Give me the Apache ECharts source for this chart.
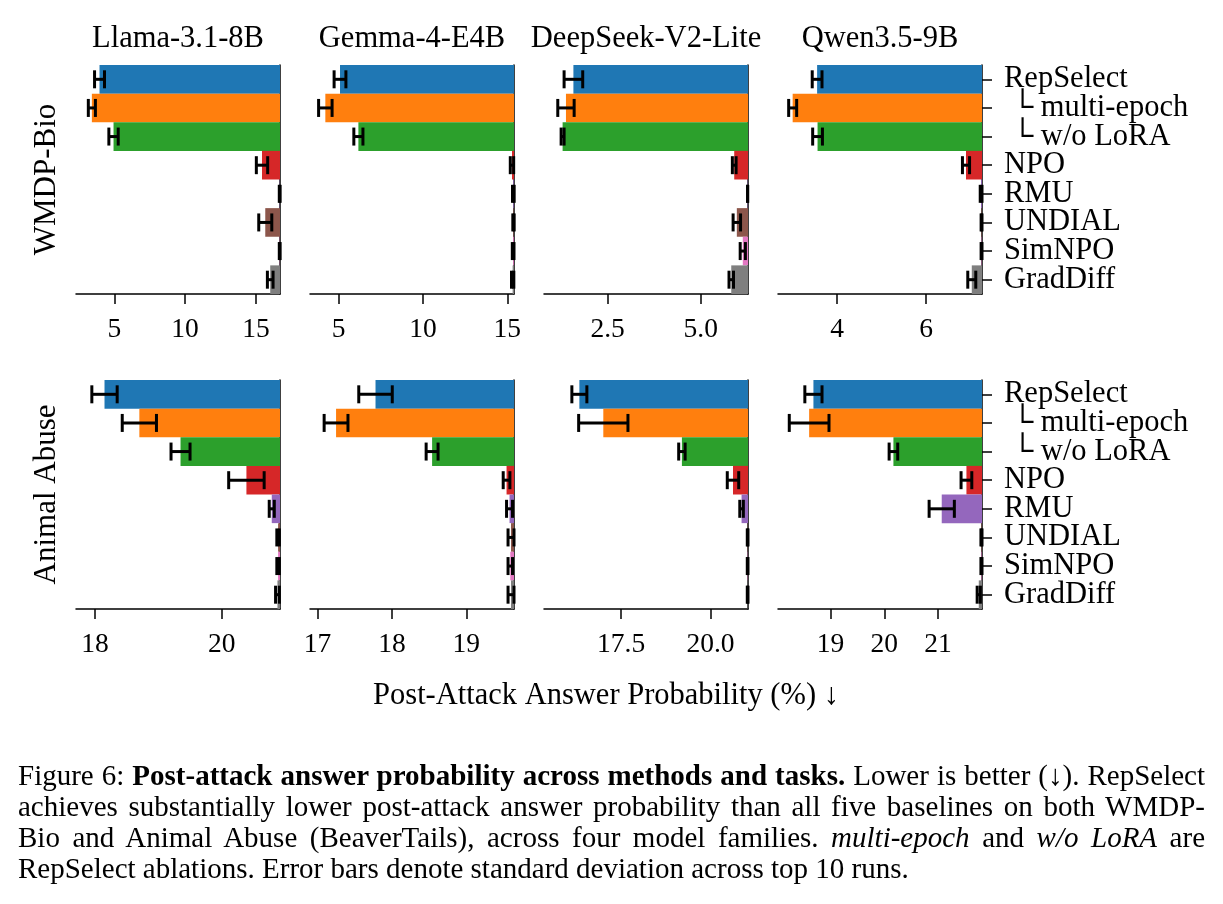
<!DOCTYPE html>
<html>
<head>
<meta charset="utf-8">
<script src="https://cdn.jsdelivr.net/npm/echarts@6/dist/echarts.min.js"></script>
<style>
  html, body { margin: 0; padding: 0; background: #fff; }
  #chart { position: absolute; left: 0; top: 0; width: 1223px; height: 904px; }
  #caption {
    position: absolute; left: 18px; top: 760px; width: 1187px;
    font-family: 'Liberation Serif', 'Times New Roman', serif;
    font-size: 29px; line-height: 31px; color: #000;
  }
  #caption div { text-align: justify; text-align-last: justify; }
  #caption div.last { text-align-last: left; }
</style>
</head>
<body>
<div id="chart"></div>
<div id="caption">
  <div>Figure 6: <b>Post-attack answer probability across methods and tasks.</b> Lower is better (↓). RepSelect</div>
  <div>achieves substantially lower post-attack answer probability than all five baselines on both WMDP-</div>
  <div>Bio and Animal Abuse (BeaverTails), across four model families. <i>multi-epoch</i> and <i>w/o LoRA</i> are</div>
  <div class="last">RepSelect ablations. Error bars denote standard deviation across top 10 runs.</div>
</div>
<script>
const methods = ['RepSelect', ' └ multi-epoch', ' └ w/o LoRA', 'NPO', 'RMU', 'UNDIAL', 'SimNPO', 'GradDiff'];
const models = ['Llama-3.1-8B', 'Gemma-4-E4B', 'DeepSeek-V2-Lite', 'Qwen3.5-9B'];
const tasks = ['WMDP-Bio', 'Animal Abuse'];
const colors = ['#1f77b4', '#ff7f0e', '#2ca02c', '#d62728', '#9467bd', '#8c564b', '#e377c2', '#7f7f7f'];

// WMDP-Bio: mean and std per model
const wmdpLlama = [3.96, 3.42, 4.95, 15.43, 16.68, 15.66, 16.68, 16.01];
const wmdpLlamaStd = [0.35, 0.25, 0.33, 0.40, 0.03, 0.46, 0.03, 0.20];
const wmdpGemma = [5.08, 4.21, 6.17, 15.28, 15.36, 15.37, 15.35, 15.32];
const wmdpGemmaStd = [0.35, 0.40, 0.27, 0.10, 0.05, 0.04, 0.05, 0.07];
const wmdpDeepseek = [1.58, 1.38, 1.29, 5.90, 6.26, 5.97, 6.13, 5.82];
const wmdpDeepseekStd = [0.25, 0.22, 0.04, 0.05, 0.00, 0.10, 0.07, 0.06];
const wmdpQwen = [3.55, 3.00, 3.56, 6.90, 7.24, 7.25, 7.25, 7.03];
const wmdpQwenStd = [0.11, 0.09, 0.11, 0.08, 0.02, 0.01, 0.01, 0.09];

// Animal Abuse: mean and std per model
const animalLlama = [18.15, 18.70, 19.35, 20.39, 20.79, 20.89, 20.89, 20.88];
const animalLlamaStd = [0.20, 0.27, 0.15, 0.28, 0.04, 0.02, 0.02, 0.03];
const animalGemma = [17.78, 17.25, 18.54, 19.54, 19.58, 19.60, 19.59, 19.60];
const animalGemmaStd = [0.225, 0.16, 0.08, 0.045, 0.04, 0.04, 0.03, 0.04];
const animalDeepseek = [16.33, 17.00, 19.20, 20.63, 20.87, 21.04, 21.04, 21.04];
const animalDeepseekStd = [0.21, 0.69, 0.09, 0.16, 0.05, 0.01, 0.01, 0.01];
const animalQwen = [18.68, 18.60, 20.17, 21.53, 21.07, 21.81, 21.81, 21.76];
const animalQwenStd = [0.16, 0.37, 0.08, 0.10, 0.235, 0.01, 0.01, 0.03];

// tick values and labels per panel (row-major)
const tickValues = [[5, 10, 15], [5, 10, 15], [2.5, 5.0], [4, 6], [18, 20], [17, 18, 19], [17.5, 20.0], [19, 20, 21]];
const tickLabels = [['5', '10', '15'], ['5', '10', '15'], ['2.5', '5.0'], ['4', '6'], ['18', '20'], ['17', '18', '19'], ['17.5', '20.0'], ['19', '20', '21']];

const panels = [
  { mean: wmdpLlama, std: wmdpLlamaStd, min: 2.3, max: 16.7 },
  { mean: wmdpGemma, std: wmdpGemmaStd, min: 3.3, max: 15.4 },
  { mean: wmdpDeepseek, std: wmdpDeepseekStd, min: 0.79, max: 6.27 },
  { mean: wmdpQwen, std: wmdpQwenStd, min: 2.67, max: 7.26 },
  { mean: animalLlama, std: animalLlamaStd, min: 17.7, max: 20.92 },
  { mean: animalGemma, std: animalGemmaStd, min: 16.9, max: 19.64 },
  { mean: animalDeepseek, std: animalDeepseekStd, min: 15.34, max: 21.05 },
  { mean: animalQwen, std: animalQwenStd, min: 18.02, max: 21.82 },
];

const serif = "'Liberation Serif', 'Times New Roman', serif";
const colLeft = [76, 310, 544, 778];
const rowTop = [65, 380];
const plotW = 204, plotH = 229;
const axisStyle = { color: '#000', width: 1.5 };

const grid = [], xAxis = [], yAxis = [], series = [];

panels.forEach((p, k) => {
  const r = Math.floor(k / 4), c = k % 4;
  grid.push({ left: colLeft[c], top: rowTop[r], width: plotW, height: plotH });
  xAxis.push({
    gridIndex: k, type: 'value', min: p.min, max: p.max,
    axisLine: { show: true, onZero: false, lineStyle: axisStyle },
    axisTick: { show: true, length: 10, customValues: tickValues[k], lineStyle: axisStyle },
    axisLabel: {
      customValues: tickValues[k], margin: 22, color: '#000', fontSize: 27.5, fontFamily: serif,
      formatter: v => {
        const i = tickValues[k].findIndex(t => Math.abs(t - v) < 1e-6);
        return i >= 0 ? tickLabels[k][i] : '';
      }
    },
    splitLine: { show: false }
  });
  yAxis.push({
    gridIndex: k, type: 'category', data: methods, inverse: true, position: 'right',
    axisLine: { show: true, onZero: false, lineStyle: axisStyle },
    axisTick: { show: c === 3, interval: 0, length: 10, alignWithLabel: true, lineStyle: axisStyle },
    axisLabel: { show: c === 3, interval: 0, margin: 22, color: '#000', fontSize: 30.5, fontFamily: serif },
    splitLine: { show: false }
  });
  const rows = p.mean.map((v, i) => [v, i, p.std[i]]);
  series.push({
    type: 'custom', xAxisIndex: k, yAxisIndex: k, data: rows, encode: { x: 0, y: 1 }, z: 2,
    renderItem: (params, api) => {
      const row = api.value(1);
      const a = api.coord([api.value(0), row]);
      const b = api.coord([p.max, row]);
      const h = api.size([0, 1])[1];
      return {
        type: 'rect',
        shape: { x: a[0], y: a[1] - h / 2, width: b[0] - a[0], height: h },
        style: { fill: colors[row] }
      };
    }
  });
  series.push({
    type: 'custom', xAxisIndex: k, yAxisIndex: k, data: rows, encode: { x: 0, y: 1 }, z: 3,
    renderItem: (params, api) => {
      const row = api.value(1), v = api.value(0), e = api.value(2);
      const lo = api.coord([v - e, row]);
      const hi = api.coord([v + e, row]);
      const cap = 9;
      const st = { stroke: '#000', lineWidth: 3 };
      return {
        type: 'group',
        children: [
          { type: 'line', shape: { x1: lo[0], y1: lo[1], x2: hi[0], y2: hi[1] }, style: st },
          { type: 'line', shape: { x1: lo[0], y1: lo[1] - cap, x2: lo[0], y2: lo[1] + cap }, style: st },
          { type: 'line', shape: { x1: hi[0], y1: hi[1] - cap, x2: hi[0], y2: hi[1] + cap }, style: st }
        ]
      };
    }
  });
});

const graphic = [];
models.forEach((m, c) => {
  graphic.push({
    type: 'text', x: colLeft[c] + plotW / 2, y: 39,
    style: { text: m, fontSize: 30.5, fontFamily: serif, fill: '#000', align: 'center', verticalAlign: 'middle' }
  });
});
tasks.forEach((t, r) => {
  graphic.push({
    type: 'text', x: 47, y: rowTop[r] + plotH / 2, rotation: Math.PI / 2,
    style: { text: t, fontSize: 31, fontFamily: serif, fill: '#000', align: 'center', verticalAlign: 'middle' }
  });
});
graphic.push({
  type: 'text', x: 606, y: 696,
  style: { text: 'Post-Attack Answer Probability (%) ↓', fontSize: 30.5, fontFamily: serif, fill: '#000', align: 'center', verticalAlign: 'middle' }
});

const chart = echarts.init(document.getElementById('chart'), null, { renderer: 'canvas' });
chart.setOption({
  animation: false,
  backgroundColor: '#fff',
  grid, xAxis, yAxis, series, graphic
});
</script>
</body>
</html>
